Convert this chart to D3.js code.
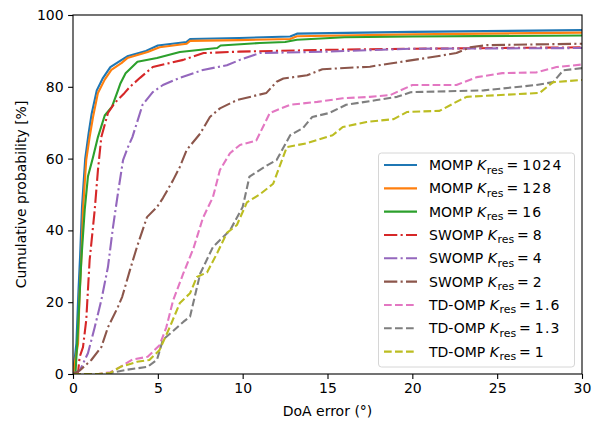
<!DOCTYPE html>
<html>
<head>
<meta charset="utf-8">
<script src="https://cdn.jsdelivr.net/npm/d3@7"></script>
<style>
  body { margin: 0; background: #fff; }
  svg { display: block; font-family: "DejaVu Sans", sans-serif; }
</style>
</head>
<body>
<div id="chart"></div>
<script>
// data: [DoA error (deg), cumulative probability (%)]
const labels = ['MOMP', 'MOMP', 'MOMP', 'SWOMP', 'SWOMP', 'SWOMP', 'TD-OMP', 'TD-OMP', 'TD-OMP'];
const kres = ['1024', '128', '16', '8', '4', '2', '1.6', '1.3', '1'];

const momp1024 = [[0,0],[0.2,8.5],[0.32,23],[0.42,33],[0.53,46.5],[0.72,60],[0.92,67],[1.1,72.5],[1.4,79],[1.77,82.5],[2.2,85.5],[2.8,87.3],[3.2,88.5],[4.3,90],[5.0,91.5],[6.7,92.5],[6.9,93.3],[9.8,93.6],[12.8,94],[13.2,94.8],[20,95.3],[30,95.8]];
const momp128 = [[0,0],[0.3,8.5],[0.39,22.5],[0.49,31.7],[0.59,45.7],[0.78,59.6],[0.98,66],[1.18,71.6],[1.47,78.3],[1.87,82],[2.26,84.7],[2.85,86.6],[3.2,88],[4.4,89.7],[5.1,91],[6.7,92],[6.9,92.8],[9.8,93],[12.8,93.3],[13.2,94.1],[20,94.6],[30,95.1]];
const momp16 = [[0,0],[0.15,0.5],[0.3,13],[0.49,31.7],[0.69,45.7],[0.88,55],[1.18,60.4],[1.47,66],[1.87,72],[2.3,74.5],[2.65,79],[2.8,81],[3.1,83.8],[3.8,87],[4.95,88],[6.3,89.7],[8.5,90.8],[8.7,91.5],[11,92.2],[12.5,92.5],[13.2,93.1],[16,93.8],[20,94],[30,94.3]];
const swomp8 = [[0,0],[0.3,0.5],[0.39,4.7],[0.59,7.5],[0.78,15],[0.98,31.7],[1.28,45.7],[1.47,56.8],[1.67,66],[2.06,72.7],[2.46,75.5],[3.04,78.3],[3.36,80],[3.95,82.5],[4.7,85.5],[6.5,87.5],[7.7,89.4],[9.8,89.8],[15,90.3],[20,90.6],[30,91]];
const swomp4 = [[0,0],[0.4,1],[0.88,5.8],[1.28,13],[1.67,20.6],[2.06,29.8],[2.36,41],[2.65,50.4],[2.95,59.6],[3.24,63.2],[3.5,66],[3.77,70],[4.1,75],[4.7,78.5],[5.3,80.5],[6.3,82.5],[7.66,84.7],[9.07,86],[9.84,87.5],[11,89.4],[15,89.8],[20,90.6],[30,90.8]];
const swomp2 = [[0,0],[0.4,1],[1.08,3.9],[1.67,7.5],[2.06,13],[2.65,18.7],[2.9,21.5],[3.36,29],[3.77,35.4],[4.36,43.7],[4.95,46.5],[5.3,49],[5.9,54],[6.3,57.7],[6.7,62.4],[7.5,67],[8.07,71.6],[8.66,74],[9.66,76.3],[11.4,78.3],[12,81.4],[12.4,82.3],[13.8,83.2],[14.7,84.9],[17.5,85.6],[18.7,86.5],[20.8,88],[22.6,89.4],[23.4,91],[24.4,91.6],[30,92]];
const tdomp16 = [[0,0],[1.5,0],[2.2,0.5],[2.8,2],[3.5,4],[4.4,4.8],[5.1,8],[5.5,13],[5.9,20.5],[6.5,28],[7.1,35],[7.66,43.5],[8.25,49.3],[8.66,56.8],[9.25,61.5],[9.84,63.8],[10.8,65],[11.6,72.7],[12.8,75],[14.4,75.8],[15.9,76.8],[17.5,77.2],[18.7,77.7],[20,80.5],[22.6,80.5],[23.8,82.7],[25.3,83.8],[27.3,84],[28.5,85.5],[30,86.2]];
const tdomp13 = [[0,0],[1.8,0],[2.2,0.3],[3.2,1.2],[4.4,2],[4.95,4],[5.3,9.5],[5.9,12],[6.5,14.5],[6.9,16],[7.5,28],[8.25,35.4],[9.25,40],[10,46.5],[10.4,55],[11.4,58],[12,59.6],[12.8,66.5],[13.55,68.5],[14.1,71.6],[15.1,72.7],[16.1,75],[17.9,76.3],[19.1,77.2],[19.9,78.5],[24.2,79],[27.3,80.5],[28.3,81.3],[28.9,84.6],[30,85.2]];
const tdomp1 = [[0,0],[1.5,0],[2.2,0.3],[2.8,2],[3.77,3.4],[4.5,3.9],[5.1,6.7],[5.7,13],[6.3,19.8],[6.9,22.5],[7.3,27],[7.9,28.3],[8.5,33.7],[9.07,39.3],[9.66,41.5],[10.25,47.8],[11,50],[11.8,53],[12.6,63.2],[13.8,64.3],[15.3,66.5],[15.9,68.8],[17.3,70.2],[18.9,71],[19.7,73],[21.6,73.3],[22.8,76.3],[23.2,77.2],[27.5,78.3],[28.3,81.3],[30,81.9]];

const seriesData = [momp1024, momp128, momp16, swomp8, swomp4, swomp2, tdomp16, tdomp13, tdomp1];
const xTicks = [0, 5, 10, 15, 20, 25, 30];
const yTicks = [0, 20, 40, 60, 80, 100];

const colors = ['#1f77b4', '#ff7f0e', '#2ca02c', '#d62728', '#9467bd', '#8c564b', '#e377c2', '#7f7f7f', '#bcbd22'];
// matplotlib '-', '-.', '--' at lw 1.5pt, ~100 dpi
const dashes = [null, null, null, '13.3,3.3,2.1,3.3', '13.3,3.3,2.1,3.3', '13.3,3.3,2.1,3.3', '7.7,3.3', '7.7,3.3', '7.7,3.3'];

const W = 595, H = 422;
const m = { left: 73, right: 13, top: 15, bottom: 48 };
const fs = 14;

const svg = d3.select('#chart').append('svg')
    .attr('width', W)
    .attr('height', H);

const x = d3.scaleLinear().domain([0, 30]).range([m.left, W - m.right]);
const y = d3.scaleLinear().domain([0, 100]).range([H - m.bottom, m.top]);

svg.append('defs').append('clipPath').attr('id', 'clip')
    .append('rect')
    .attr('x', x(0)).attr('y', y(100))
    .attr('width', x(30) - x(0)).attr('height', y(0) - y(100));

// curves
const line = d3.line().x(d => x(d[0])).y(d => y(d[1]));
const curves = svg.append('g').attr('clip-path', 'url(#clip)');
seriesData.forEach((s, i) => {
    curves.append('path')
        .attr('d', line(s))
        .attr('fill', 'none')
        .attr('stroke', colors[i])
        .attr('stroke-width', 2.1)
        .attr('stroke-linejoin', 'round')
        .attr('stroke-dasharray', dashes[i]);
});

// axes
const xAxis = svg.append('g')
    .attr('transform', `translate(0,${y(0)})`)
    .call(d3.axisBottom(x).tickValues(xTicks).tickSize(4.9).tickPadding(4).tickFormat(d3.format('d')));
const yAxis = svg.append('g')
    .attr('transform', `translate(${x(0)},0)`)
    .call(d3.axisLeft(y).tickValues(yTicks).tickSize(4.9).tickPadding(4.5).tickFormat(d3.format('d')));
[xAxis, yAxis].forEach(a => {
    a.select('.domain').remove();
    a.selectAll('line').attr('stroke', '#000').attr('stroke-width', 1.1);
    a.selectAll('text').attr('font-size', fs).attr('fill', '#000').attr('font-family', '"DejaVu Sans", sans-serif');
});

// frame
svg.append('rect')
    .attr('x', x(0)).attr('y', y(100))
    .attr('width', x(30) - x(0)).attr('height', y(0) - y(100))
    .attr('fill', 'none')
    .attr('stroke', '#000')
    .attr('stroke-width', 1.1);

// axis titles
svg.append('text')
    .attr('x', (x(0) + x(30)) / 2)
    .attr('y', 416)
    .attr('text-anchor', 'middle')
    .attr('font-size', fs)
    .text('DoA error (°)');

svg.append('text')
    .attr('transform', `translate(26,${(y(0) + y(100)) / 2}) rotate(-90)`)
    .attr('text-anchor', 'middle')
    .attr('font-size', fs)
    .text('Cumulative probability [%]');

// legend
const lg = svg.append('g');
lg.append('rect')
    .attr('x', 378.5).attr('y', 153)
    .attr('width', 196).attr('height', 214)
    .attr('rx', 3)
    .attr('fill', 'rgba(255,255,255,0.8)')
    .attr('stroke', '#d6d6d6')
    .attr('stroke-width', 1);

labels.forEach((lab, i) => {
    const cy = 165 + i * 23.33;
    lg.append('line')
        .attr('x1', 384).attr('x2', 417)
        .attr('y1', cy).attr('y2', cy)
        .attr('stroke', colors[i])
        .attr('stroke-width', 2.1)
        .attr('stroke-dasharray', dashes[i]);
    const t = lg.append('text')
        .attr('x', 429)
        .attr('y', cy + 5)
        .attr('font-size', fs);
    t.append('tspan').text(lab + ' ');
    t.append('tspan').attr('font-style', 'italic').text('K');
    t.append('tspan').attr('font-size', fs * 0.78).attr('dy', 3.5).attr('dx', 0.5).text('res');
    t.append('tspan').attr('dy', -3.5).attr('dx', 3).text('=');
    t.append('tspan').attr('dx', 4).attr('letter-spacing', 1.2).text(kres[i]);
});
</script>
</body>
</html>
